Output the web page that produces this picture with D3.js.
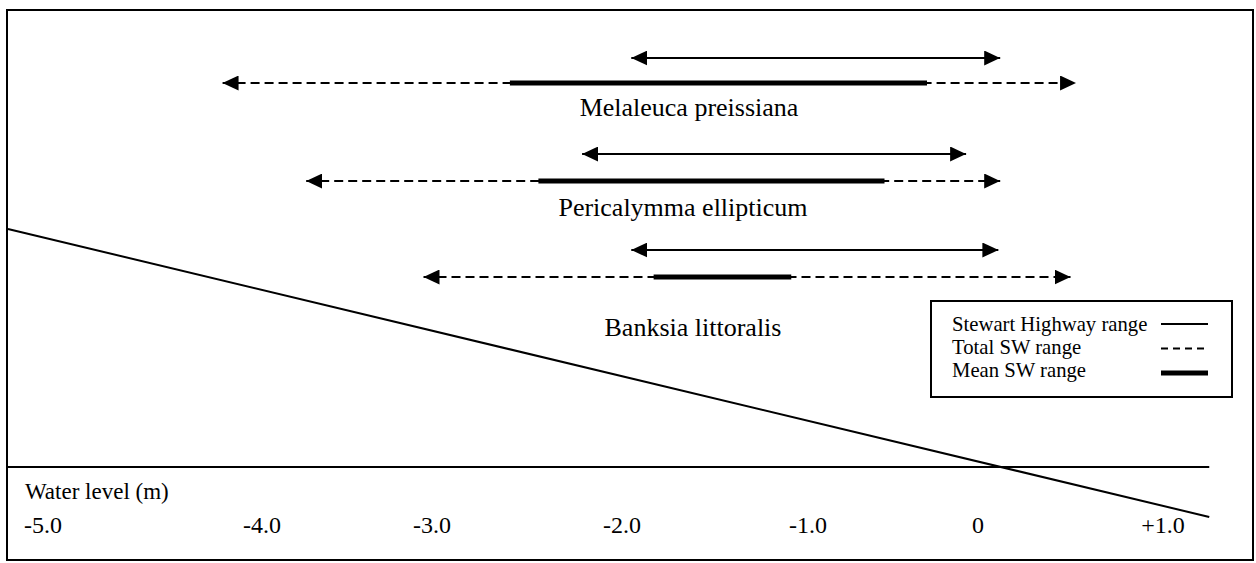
<!DOCTYPE html>
<html>
<head>
<meta charset="utf-8">
<script src="https://cdn.jsdelivr.net/npm/d3@7"></script>
<style>
  html, body { margin: 0; padding: 0; background: #fff; }
  svg { display: block; font-family: "Liberation Serif", "Times New Roman", serif; }
</style>
</head>
<body>
<div id="chart"></div>
<script>
// Species and their water level ranges (m).
const species = ['Melaleuca preissiana', 'Pericalymma ellipticum', 'Banksia littoralis'];
const highwayRange = [[-1.95, 0.12], [-2.21, -0.07], [-1.95, 0.11]];
const totalRange = [[-4.18, 0.53], [-3.74, 0.12], [-3.05, 0.50]];
const meanRange = [[-2.59, -0.30], [-2.44, -0.55], [-1.83, -1.09]];

// Axis ticks.
const tickValues = [-5, -4, -3, -2, -1, 0, 1];
const tickLabels = ['-5.0', '-4.0', '-3.0', '-2.0', '-1.0', '0', '+1.0'];

// Sloping water table line and the reference level (value, relative height).
const slopeLine = [[-5.16, 1], [1.25, -0.21]];
const baseLine = [[-5.16, 0], [1.25, 0]];

const legendItems = ['Stewart Highway range', 'Total SW range', 'Mean SW range'];

const width = 1256;
const height = 563;

const svg = d3.select('#chart')
    .append('svg')
        .attr('width', width)
        .attr('height', height);

// The printed tick labels are not evenly spaced, so use a polylinear scale.
const x = d3.scaleLinear()
    .domain(tickValues)
    .range([43, 262, 432, 622, 808, 978, 1163]);

const row = d3.scalePoint().domain(species).range([58, 250]);
const h = d3.scaleLinear().domain([0, 1]).range([467, 229]);

// Arrow head marker.
svg.append('defs')
    .append('marker')
        .attr('id', 'arrow')
        .attr('markerUnits', 'userSpaceOnUse')
        .attr('markerWidth', 16)
        .attr('markerHeight', 15)
        .attr('refX', 16)
        .attr('refY', 7.5)
        .attr('orient', 'auto-start-reverse')
    .append('path')
        .attr('d', 'M0,0L16,7.5L0,15Z')
        .attr('fill', '#000');

// Outer frame.
svg.append('rect')
    .attr('x', 7)
    .attr('y', 10)
    .attr('width', 1246)
    .attr('height', 550)
    .attr('fill', 'none')
    .attr('stroke', '#000')
    .attr('stroke-width', 2);

const line = d3.line().x(d => x(d[0])).y(d => h(d[1]));

svg.append('path')
    .attr('d', line(baseLine))
    .attr('fill', 'none')
    .attr('stroke', '#000')
    .attr('stroke-width', 2);

svg.append('path')
    .attr('d', line(slopeLine))
    .attr('fill', 'none')
    .attr('stroke', '#000')
    .attr('stroke-width', 2);

// Rows of ranges.
const rows = svg.selectAll('g.row')
    .data(species)
    .enter()
    .append('g')
        .attr('class', 'row');

rows.append('line')
    .attr('x1', (d, i) => x(highwayRange[i][0]))
    .attr('x2', (d, i) => x(highwayRange[i][1]))
    .attr('y1', d => row(d))
    .attr('y2', d => row(d))
    .attr('stroke', '#000')
    .attr('stroke-width', 2)
    .attr('marker-start', 'url(#arrow)')
    .attr('marker-end', 'url(#arrow)');

rows.append('line')
    .attr('x1', (d, i) => x(totalRange[i][0]))
    .attr('x2', (d, i) => x(totalRange[i][1]))
    .attr('y1', (d, i) => row(d) + 25 + (i > 0 ? 2 : 0))
    .attr('y2', (d, i) => row(d) + 25 + (i > 0 ? 2 : 0))
    .attr('stroke', '#000')
    .attr('stroke-width', 2)
    .attr('stroke-dasharray', '9,5')
    .attr('marker-start', 'url(#arrow)')
    .attr('marker-end', 'url(#arrow)');

rows.append('line')
    .attr('x1', (d, i) => x(meanRange[i][0]))
    .attr('x2', (d, i) => x(meanRange[i][1]))
    .attr('y1', (d, i) => row(d) + 25 + (i > 0 ? 2 : 0))
    .attr('y2', (d, i) => row(d) + 25 + (i > 0 ? 2 : 0))
    .attr('stroke', '#000')
    .attr('stroke-width', 5);

// Species names (centre x, baseline offset below the row).
const labelPos = [[689, 58], [683, 62], [693, 86]];
rows.append('text')
    .attr('x', (d, i) => labelPos[i][0])
    .attr('y', (d, i) => row(d) + labelPos[i][1])
    .attr('text-anchor', 'middle')
    .style('font-size', '26px')
    .text(d => d);

// Axis labels.
svg.append('text')
    .attr('x', 25)
    .attr('y', 499)
    .style('font-size', '23px')
    .text('Water level (m)');

svg.selectAll('text.tick')
    .data(tickValues)
    .enter()
    .append('text')
        .attr('class', 'tick')
        .attr('x', d => x(d))
        .attr('y', 533)
        .attr('text-anchor', 'middle')
        .style('font-size', '24px')
        .text((d, i) => tickLabels[i]);

// Legend.
const legend = svg.append('g');
legend.append('rect')
    .attr('x', 931)
    .attr('y', 301)
    .attr('width', 301)
    .attr('height', 96)
    .attr('fill', '#fff')
    .attr('stroke', '#000')
    .attr('stroke-width', 2);

legend.selectAll('text')
    .data(legendItems)
    .enter()
    .append('text')
        .attr('x', 952)
        .attr('y', (d, i) => 331 + i * 23)
        .style('font-size', '20.7px')
        .text(d => d);

const legendStyles = [
    {w: 2, dash: null},
    {w: 2, dash: '7,5'},
    {w: 5, dash: null}
];
legend.selectAll('line')
    .data(legendStyles)
    .enter()
    .append('line')
        .attr('x1', 1161)
        .attr('x2', 1208)
        .attr('y1', (d, i) => 324 + i * 24.5)
        .attr('y2', (d, i) => 324 + i * 24.5)
        .attr('stroke', '#000')
        .attr('stroke-width', d => d.w)
        .attr('stroke-dasharray', d => d.dash);
</script>
</body>
</html>
